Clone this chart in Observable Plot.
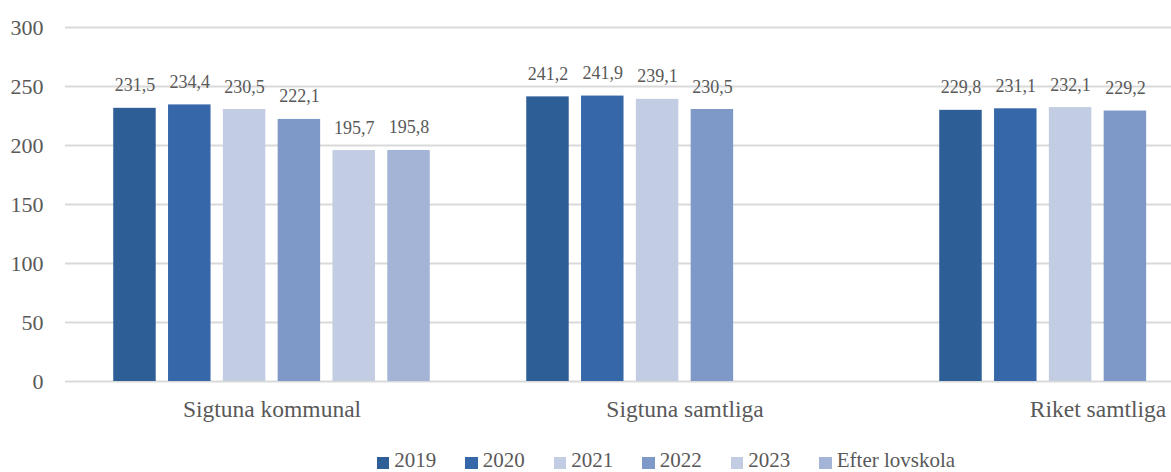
<!DOCTYPE html>
<html>
<head>
<meta charset="utf-8">
<script src="https://cdn.jsdelivr.net/npm/d3@7"></script>
<script src="https://cdn.jsdelivr.net/npm/@observablehq/plot@0.6"></script>
<style>
  html, body { margin: 0; padding: 0; background: white; }
  #wrap { width: 1171px; height: 472px; overflow: hidden; position: relative; background: white; }
  #inner { width: 1338px; position: relative; }
  #legend { position: absolute; left: 0; top: 450px; width: 1332px; display: flex; justify-content: center; align-items: center; gap: 29px;
            font-family: "Liberation Serif", "Times New Roman", "DejaVu Serif", serif; font-size: 21px; color: #595959;
            line-height: 21px; }
  #legend .item { display: flex; align-items: center; gap: 5px; }
  #legend .sw { width: 12.5px; height: 12px; display: inline-block; transform: translateY(2px); }
  #chart svg, #chart svg text { font-family: "Liberation Serif", "Times New Roman", "DejaVu Serif", serif !important; }
</style>
</head>
<body>
<div id="wrap"><div id="inner"><div id="chart"></div><div id="legend"></div></div></div>
<script>
const groups = ["Sigtuna kommunal", "Sigtuna samtliga", "Riket samtliga"];
const series = ["2019", "2020", "2021", "2022", "2023", "Efter lovskola"];
const v2019 = [231.5, 241.2, 229.8];
const v2020 = [234.4, 241.9, 231.1];
const v2021 = [230.5, 239.1, 232.1];
const v2022 = [222.1, 230.5, 229.2];
const v2023 = [195.7, null, null];
const vEfter = [195.8, null, null];
const colors = ["#2e5e96", "#3567a9", "#c2cce2", "#7e98c7", "#c2cce2", "#a4b4d7"];
const yTicks = [0, 50, 100, 150, 200, 250, 300];

const seriesValues = [v2019, v2020, v2021, v2022, v2023, vEfter];
const data = [];
groups.forEach((g, gi) => {
  series.forEach((s, si) => {
    const v = seriesValues[si][gi];
    if (v != null) data.push({group: g, series: s, value: v});
  });
});
const fmt = v => v.toFixed(1).replace(".", ",");
const textColor = "#595959";

const chart = Plot.plot({
  width: 1338,
  height: 435,
  marginLeft: 65,
  marginRight: 34,
  marginTop: 27,
  marginBottom: 54,
  style: {fontFamily: "'Liberation Serif', 'Times New Roman', serif", color: textColor, background: "white", overflow: "visible"},
  fx: {domain: groups, padding: 0, axis: null, round: false},
  x: {domain: series, paddingInner: 0.225, paddingOuter: 0.88, axis: null, round: false},
  y: {domain: [0, 300], axis: null},
  color: {domain: series, range: colors},
  marks: [
    Plot.ruleY(yTicks, {stroke: "#d9d9d9", strokeWidth: 2}),
    Plot.axisY(yTicks, {tickSize: 0, tickPadding: 22, fontSize: 22, label: null, fill: textColor}),
    Plot.axisFx({anchor: "bottom", tickSize: 0, tickPadding: 19, fontSize: 23.5, label: null, fill: textColor}),
    Plot.barY(data, {fx: "group", x: "series", y: "value", fill: "series"}),
    Plot.text(data, {fx: "group", x: "series", y: "value", text: d => fmt(d.value),
      lineAnchor: "bottom", dy: -17, fontSize: 18, fill: textColor})
  ]
});
document.getElementById("chart").appendChild(chart);

const legend = document.getElementById("legend");
series.forEach((s, i) => {
  const item = document.createElement("div");
  item.className = "item";
  const sw = document.createElement("span");
  sw.className = "sw";
  sw.style.background = colors[i];
  const label = document.createElement("span");
  label.textContent = s;
  item.appendChild(sw);
  item.appendChild(label);
  legend.appendChild(item);
});
</script>
</body>
</html>
